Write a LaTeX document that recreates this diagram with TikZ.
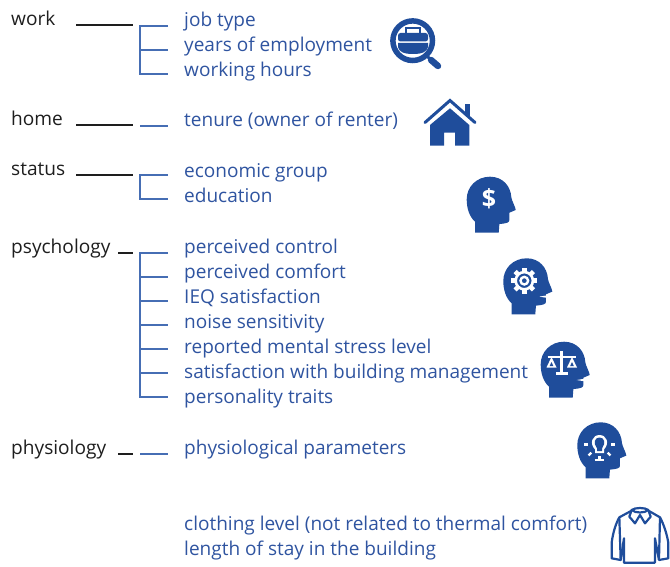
\documentclass[tikz,border=0pt]{standalone}
\usepackage{fontspec}
\setmainfont{Open Sans}
\definecolor{txtblue}{RGB}{47,84,160}
\definecolor{iconblue}{RGB}{31,77,155}
\definecolor{lineblue}{RGB}{70,110,180}
\definecolor{txtblack}{RGB}{30,30,30}
\newcommand{\headshape}{(25,168) -- (25,135) .. controls (8,120) and (0,95) .. (0,68) .. controls (0,30) and (30,0) .. (70,0) .. controls (108,0) and (132,28) .. (134,62) .. controls (135,72) and (147,92) .. (147,100) -- (128,108) -- (128,130) .. controls (128,138) and (120,140) .. (98,142) -- (96,168) -- cycle}
\tikzset{
  cat/.style={anchor=base west,inner sep=0pt,text=txtblack,yshift=-1pt,font=\fontsize{19.1}{22}\selectfont},
  item/.style={anchor=base west,inner sep=0pt,text=txtblue,yshift=-1pt,font=\fontsize{19.03}{22}\selectfont},
  blackline/.style={draw=txtblack,line width=1.6pt},
  blueline/.style={draw=lineblue,line width=1.5pt},
  zoomed/.style={x=0.3333pt,y=-0.3333pt}
}
\begin{document}
\begin{tikzpicture}[x=1pt,y=-1pt]
\useasboundingbox (0,0) rectangle (670,567);
% categories
\node[cat] (work) at (11,25) {work};
\node[cat] (home) at (11,125) {home};
\node[cat] (status) at (11,175) {status};
\node[cat] (psy) at (11,253) {psychology};
\node[cat] (phy) at (11,453) {physiology};
% items
\node[item] (i1) at (184,26) {job type};
\node[item] (i2) at (184,51) {years of employment};
\node[item] (i3) at (184,76) {working hours};
\node[item] (i4) at (184,126) {tenure (owner of renter)};
\node[item] (i5) at (184,177) {economic group};
\node[item] (i6) at (184,202) {education};
\node[item] (i7) at (184,252) {perceived control};
\node[item] (i8) at (184,277) {perceived comfort};
\node[item] (i9) at (184,302) {IEQ satisfaction};
\node[item] (i10) at (184,327) {noise sensitivity};
\node[item] (i11) at (184,352) {reported mental stress level};
\node[item] (i12) at (184,377) {satisfaction with building management};
\node[item] (i13) at (184,402) {personality traits};
\node[item] (i14) at (184,453) {physiological parameters};
\node[item] (i15) at (184,529) {clothing level (not related to thermal comfort)};
\node[item] (i16) at (184,554) {length of stay in the building};
% black connectors
\coordinate (b1a) at (76,25); \coordinate (b1b) at (132.5,25);
\coordinate (b2a) at (76,125); \coordinate (b2b) at (132.5,125);
\coordinate (b3a) at (76,175); \coordinate (b3b) at (132.5,175);
\coordinate (b4a) at (118,253); \coordinate (b4b) at (132.5,253);
\coordinate (b5a) at (118,454); \coordinate (b5b) at (132.5,454);
\draw[blackline] (b1a) -- (b1b);
\draw[blackline] (b2a) -- (b2b);
\draw[blackline] (b3a) -- (b3b);
\draw[blackline] (b4a) -- (b4b);
\draw[blackline] (b5a) -- (b5b);
% blue combs
\coordinate (t1) at (168,26); \coordinate (t2) at (168,50); \coordinate (t3) at (168,74);
\coordinate (t4) at (168,126);
\coordinate (t5) at (168,175); \coordinate (t6) at (168,199);
\coordinate (t7) at (168,253); \coordinate (t8) at (168,277); \coordinate (t9) at (168,301);
\coordinate (t10) at (168,325); \coordinate (t11) at (168,349); \coordinate (t12) at (168,373); \coordinate (t13) at (168,397);
\coordinate (t14) at (168,454);
\draw[blueline] (t1) -- (140,26) -- (140,74) -- (t3);
\draw[blueline] (140,50) -- (t2);
\draw[blueline] (140,126) -- (t4);
\draw[blueline] (t5) -- (140,175) -- (140,199) -- (t6);
\draw[blueline] (t7) -- (140,253) -- (140,397) -- (t13);
\foreach \t/\y in {t8/277,t9/301,t10/325,t11/349,t12/373} \draw[blueline] (140,\y) -- (\t);
\draw[blueline] (140,454) -- (t14);
% magnifier
\draw[iconblue,line width=5.5pt] (412.7,40.7) circle (19.8pt);
\draw[iconblue,line width=3pt] (427,56) -- (431,60);
\draw[iconblue,line width=6.5pt,line cap=round] (431,60) -- (438,66);
\fill[iconblue,rounded corners=2.5pt] (398,33) -- (398,41.5) -- (428,41.5) -- (428,33) -- cycle;
\fill[iconblue] (398,43) -- (428,43) -- (428,47) .. controls (427,52) and (422,54) .. (413,54) .. controls (404,54) and (399,52) .. (398,47) -- cycle;
\draw[iconblue,line width=2pt] (406,33) -- (406,28) -- (420,28) -- (420,33);
% house
\draw[iconblue,line width=3pt,line cap=round,line join=miter] (425,122.5) -- (450,100.5) -- (475,122.5);
\fill[iconblue] (450,108.3) -- (430,125) -- (430,145.7) -- (444,145.7) -- (444,132.7) -- (455,132.7) -- (455,145.7) -- (469.3,145.7) -- (469.3,125) -- cycle;
\fill[iconblue] (465,104) rectangle (470.3,116);
% dollar head
\begin{scope}[shift={(466.7,176.7)},zoomed]
\fill[iconblue] \headshape;
\end{scope}
\node[inner sep=0pt,text=white,font=\bfseries\fontsize{25}{25}\selectfont] (dollar) at (489,199) {\$};
% gear head
\begin{scope}[shift={(503.3,258.3)},zoomed]
\fill[iconblue] \headshape;
\fill[white] (132,111) -- (108,115) -- (132,119) -- cycle;
\end{scope}
\foreach \a in {0,45,...,315}
  \draw[white,line width=4.5pt] (524.3,280.7) ++(\a:8pt) -- ++(\a:5pt);
\draw[white,line width=2.6pt,fill=iconblue] (524.3,280.7) circle (8.6pt);
\draw[white,line width=2.4pt] (524.3,280.7) circle (3.8pt);
% scales head
\begin{scope}[shift={(540.7,341.7)},zoomed]
\fill[iconblue] \headshape;
\fill[white] (132,111) -- (108,115) -- (132,119) -- cycle;
\end{scope}
\draw[white,line width=2.6pt] (561.7,351) -- (561.7,373);
\draw[white,line width=2.4pt] (547.5,357) -- (576,357);
\draw[white,line width=3pt] (556,373.5) -- (567.5,373.5);
\fill[white] (551.5,357) -- (546.5,367.5) -- (556.5,367.5) -- cycle;
\fill[white] (572,357) -- (567,367.5) -- (577,367.5) -- cycle;
\fill[iconblue] (551.5,362) -- (549.7,366) -- (553.3,366) -- cycle;
\fill[iconblue] (572,362) -- (570.2,366) -- (573.8,366) -- cycle;
% bulb head
\begin{scope}[shift={(577.3,422.3)},zoomed]
\fill[iconblue] \headshape;
\end{scope}
\fill[white] (595,453) -- (595,449.5) .. controls (589,443) and (592.5,435) .. (599.5,435) .. controls (606.5,435) and (610,443) .. (604,449.5) -- (604,453) -- cycle;
\fill[iconblue] (597,451) -- (597,448.5) .. controls (593,443) and (594.5,437.5) .. (599.5,437.5) .. controls (604.5,437.5) and (606,443) .. (602,448.5) -- (602,451) -- cycle;
\draw[white,line width=2.4pt] (594.5,459.8) -- (604,459.8);
\foreach \a in {-90,-135,-45,-180,0}
  \draw[white,line width=2.4pt] (599.5,444.5) ++(\a:11.5pt) -- ++(\a:4pt);
% shirt
\begin{scope}[shift={(560,410)},zoomed,line join=round]
\tikzset{every path/.style={line width=2.2pt}}
\draw[iconblue] (213,303) -- (178,322) .. controls (165,345) and (158,375) .. (155,398) -- (155,445) -- (182,450) -- (192,385) -- (192,458) -- (285,458) -- (285,385) -- (297,450) -- (325,445) -- (325,398) .. controls (320,370) and (312,345) .. (300,322) -- (267,303);
\draw[iconblue] (215,300) .. controls (225,292) and (255,292) .. (265,300) -- (272,320) -- (255,340) -- (240,315) -- (225,340) -- (208,320) -- cycle;
\draw[iconblue] (215,300) .. controls (225,310) and (255,310) .. (265,300);
\draw[iconblue] (178,322) -- (182,450);
\draw[iconblue] (300,322) -- (297,450);
\end{scope}
\end{tikzpicture}
\end{document}
